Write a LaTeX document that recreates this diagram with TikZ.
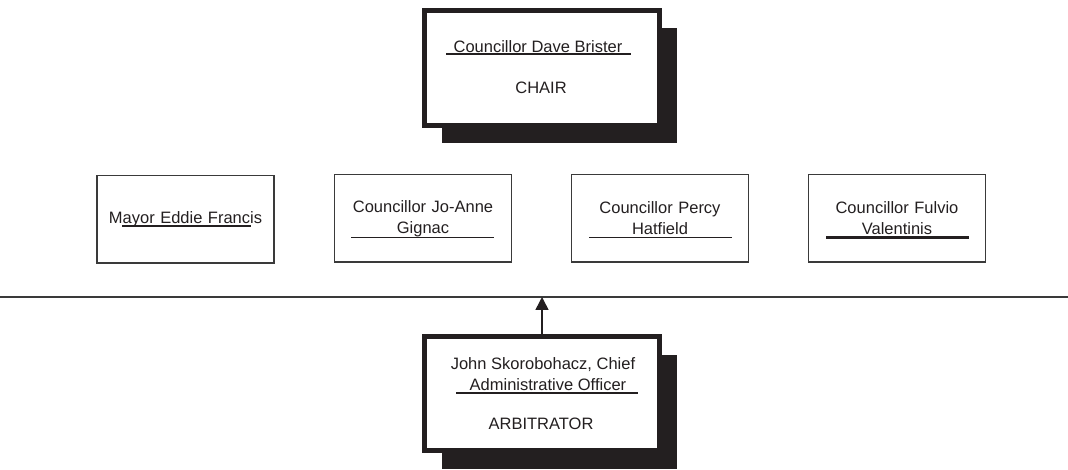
\documentclass[tikz,border=0pt]{standalone}
\usepackage{fontspec}
\setmainfont{Liberation Sans}
\usetikzlibrary{arrows.meta,shadows}
\definecolor{ink}{HTML}{231F20}
\definecolor{rule}{HTML}{3A3A3A}

\begin{document}
\begin{tikzpicture}[x=1pt,y=-1pt,
  every node/.style={font=\fontsize{16.5}{21}\selectfont, text=ink},
  member/.style={draw=rule, line width=1.5pt, minimum width=177pt, minimum height=87.5pt,
    align=center, text width=165pt, inner sep=0pt},
  heavy/.style={draw=ink, line width=5pt, fill=white, minimum width=235pt, minimum height=115pt,
    inner sep=0pt, drop shadow={shadow xshift=17pt, shadow yshift=-18pt, fill=ink, opacity=1}},
  uline/.style={draw=ink, line width=1.6pt}]
  \useasboundingbox (0,0) rectangle (1068,470);

  \node[heavy] (chair) at (542,68) {};
  \node (chairname) at (538,46.5) {Councillor Dave Brister};
  \node (chairrole) at (541,88) {CHAIR};
  \draw[uline, line width=2pt] (446,54.5) -- (631,54.5);

  \node[member] (mayor) at (185.5,219.5) {Mayor Eddie Francis};
  \node[member] (gignac) at (423,218.5) {Councillor Jo-Anne\\Gignac};
  \node[member] (hatfield) at (660,218.5) {Councillor Percy\\Hatfield};
  \node[member] (valentinis) at (897,218.5) {Councillor Fulvio\\Valentinis};
  \draw[uline, line width=2pt] (122,226.5) -- (251,226.5);
  \draw[uline] (351,237.5) -- (494,237.5);
  \draw[uline] (589,237.5) -- (732,237.5);
  \draw[uline, line width=2.5pt] (826,237.5) -- (969,237.5);

  \coordinate (busL) at (0,297);
  \coordinate (busR) at (1068,297);
  \coordinate (tap) at (542,297);
  \draw[rule, line width=2.2pt] (busL) -- (busR);

  \node[heavy, minimum height=114pt] (arb) at (542,393.5) {};
  \node[align=center] (arbname) at (543,374) {John Skorobohacz, Chief\\\hspace*{0.6em}Administrative Officer};
  \node (arbrole) at (541,424) {ARBITRATOR};
  \draw[uline, line width=2pt] (456,392.5) -- (638,392.5);

  \draw[ink, line width=1.5pt, -{Triangle[width=13pt,length=13pt]}] (arb.north) -- (tap);
\end{tikzpicture}
\end{document}
